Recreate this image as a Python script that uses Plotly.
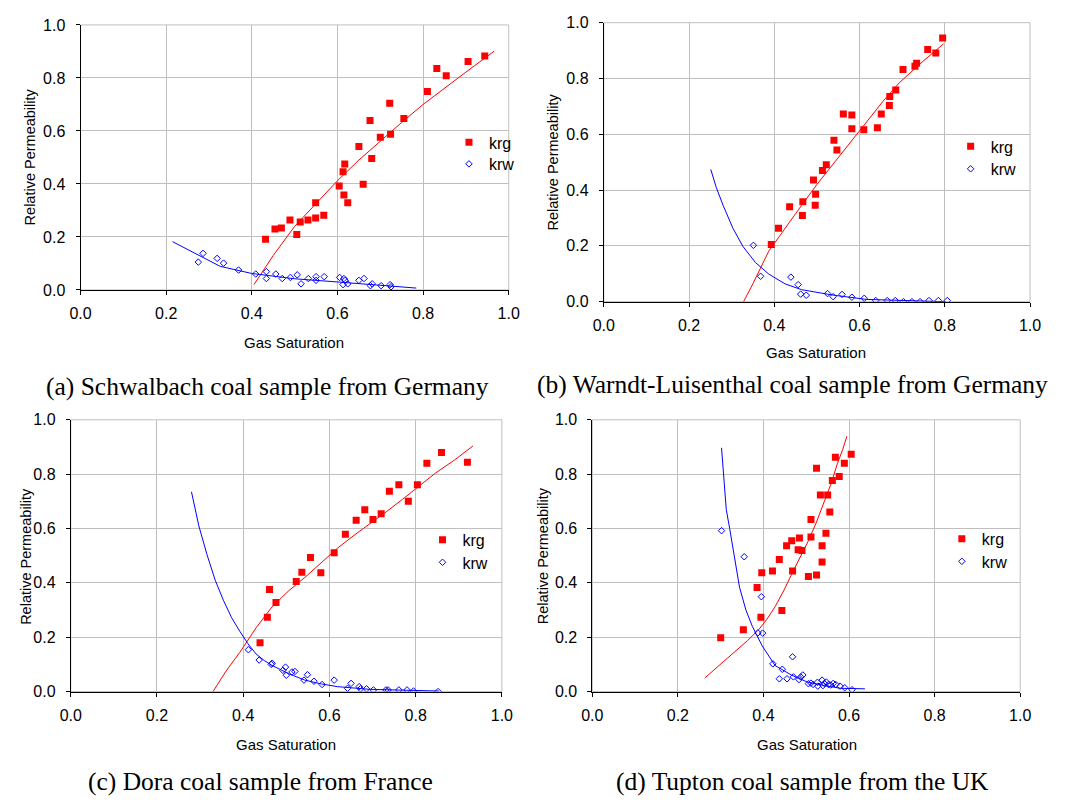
import plotly.graph_objects as go

W, H = 1090, 805

# ---------------- Data ----------------
# (a) Schwalbach
a_krg_x = [0.432, 0.454, 0.469, 0.489, 0.505, 0.513, 0.531, 0.549, 0.549, 0.568, 0.604, 0.615, 0.613, 0.617,
           0.624, 0.650, 0.660, 0.676, 0.680, 0.700, 0.722, 0.724, 0.755, 0.810, 0.832, 0.854, 0.905, 0.944]
a_krg_y = [0.191, 0.230, 0.234, 0.264, 0.209, 0.256, 0.264, 0.271, 0.329, 0.282, 0.392, 0.358, 0.446, 0.475,
           0.329, 0.541, 0.399, 0.639, 0.496, 0.576, 0.704, 0.587, 0.647, 0.749, 0.836, 0.808, 0.862, 0.883]
a_krw_x = [0.275, 0.286, 0.319, 0.334, 0.369, 0.409, 0.434, 0.434, 0.456, 0.471, 0.490, 0.506, 0.515, 0.532,
           0.550, 0.550, 0.569, 0.605, 0.615, 0.618, 0.613, 0.624, 0.650, 0.662, 0.681, 0.677, 0.702, 0.723, 0.725]
a_krw_y = [0.105, 0.138, 0.119, 0.101, 0.075, 0.060, 0.069, 0.043, 0.060, 0.043, 0.047, 0.057, 0.023, 0.043,
           0.050, 0.036, 0.050, 0.047, 0.043, 0.036, 0.020, 0.023, 0.036, 0.043, 0.023, 0.016, 0.016, 0.020, 0.012]
a_krg_fit_x = [0.405, 0.45, 0.50, 0.55, 0.60, 0.65, 0.70, 0.75, 0.80, 0.85, 0.90, 0.966]
a_krg_fit_y = [0.020, 0.130, 0.240, 0.325, 0.412, 0.490, 0.562, 0.632, 0.700, 0.762, 0.822, 0.901]
a_krw_fit_x = [0.215, 0.25, 0.30, 0.326, 0.40, 0.50, 0.60, 0.70, 0.784]
a_krw_fit_y = [0.182, 0.152, 0.112, 0.089, 0.062, 0.042, 0.030, 0.018, 0.007]

# (b) Warndt-Luisenthal
b_krg_x = [0.393, 0.410, 0.436, 0.466, 0.467, 0.492, 0.496, 0.497, 0.513, 0.522, 0.540, 0.547, 0.562, 0.582,
           0.582, 0.610, 0.642, 0.651, 0.670, 0.671, 0.685, 0.702, 0.730, 0.734, 0.760, 0.779, 0.795]
b_krg_y = [0.205, 0.263, 0.340, 0.309, 0.358, 0.436, 0.346, 0.385, 0.470, 0.491, 0.579, 0.544, 0.673, 0.669,
           0.620, 0.616, 0.623, 0.673, 0.703, 0.735, 0.759, 0.832, 0.844, 0.855, 0.904, 0.891, 0.945]
b_krw_x = [0.351, 0.368, 0.439, 0.456, 0.462, 0.475, 0.525, 0.538, 0.559, 0.582, 0.611, 0.638, 0.665, 0.684,
           0.703, 0.723, 0.742, 0.763, 0.785, 0.806]
b_krw_y = [0.202, 0.091, 0.088, 0.061, 0.027, 0.023, 0.029, 0.018, 0.026, 0.016, 0.012, 0.004, 0.004, 0.004,
           0.000, 0.000, 0.000, 0.004, 0.004, 0.004]
b_krg_fit_x = [0.328, 0.35, 0.387, 0.43, 0.464, 0.50, 0.540, 0.58, 0.617, 0.655, 0.693, 0.74, 0.797]
b_krg_fit_y = [0.000, 0.065, 0.181, 0.275, 0.345, 0.420, 0.497, 0.575, 0.649, 0.718, 0.784, 0.850, 0.924]
b_krw_fit_x = [0.251, 0.264, 0.280, 0.303, 0.326, 0.356, 0.387, 0.425, 0.464, 0.540, 0.617, 0.693, 0.801]
b_krw_fit_y = [0.474, 0.409, 0.345, 0.263, 0.199, 0.140, 0.099, 0.064, 0.043, 0.023, 0.008, 0.004, 0.000]

# (c) Dora
c_krg_x = [0.439, 0.456, 0.461, 0.476, 0.523, 0.536, 0.556, 0.580, 0.611, 0.637, 0.662, 0.682, 0.701, 0.720,
           0.739, 0.761, 0.783, 0.804, 0.826, 0.860, 0.920]
c_krg_y = [0.180, 0.273, 0.376, 0.328, 0.405, 0.439, 0.493, 0.437, 0.511, 0.579, 0.630, 0.669, 0.633, 0.654,
           0.737, 0.761, 0.700, 0.761, 0.840, 0.880, 0.844]
c_krw_x = [0.412, 0.437, 0.465, 0.467, 0.492, 0.498, 0.500, 0.513, 0.520, 0.541, 0.549, 0.564, 0.583, 0.611,
           0.642, 0.650, 0.669, 0.672, 0.686, 0.702, 0.731, 0.736, 0.761, 0.780, 0.795, 0.852]
c_krw_y = [0.154, 0.116, 0.100, 0.104, 0.078, 0.090, 0.060, 0.072, 0.074, 0.042, 0.062, 0.038, 0.026, 0.042,
           0.012, 0.030, 0.018, 0.010, 0.010, 0.006, 0.006, 0.006, 0.006, 0.006, 0.002, 0.000]
c_krg_fit_x = [0.330, 0.360, 0.392, 0.430, 0.467, 0.505, 0.543, 0.581, 0.619, 0.657, 0.695, 0.733, 0.770, 0.808, 0.846, 0.890, 0.933]
c_krg_fit_y = [0.000, 0.075, 0.144, 0.235, 0.312, 0.370, 0.420, 0.475, 0.528, 0.575, 0.618, 0.663, 0.708, 0.757, 0.804, 0.852, 0.904]
c_krw_fit_x = [0.280, 0.297, 0.316, 0.335, 0.354, 0.373, 0.392, 0.411, 0.430, 0.449, 0.467, 0.505, 0.543, 0.581, 0.619, 0.695, 0.854]
c_krw_fit_y = [0.735, 0.610, 0.504, 0.410, 0.336, 0.272, 0.222, 0.176, 0.138, 0.114, 0.096, 0.066, 0.042, 0.028, 0.018, 0.008, 0.002]

# (d) Tupton
d_krg_x = [0.300, 0.353, 0.385, 0.394, 0.396, 0.421, 0.437, 0.443, 0.454, 0.466, 0.468, 0.481, 0.484, 0.490,
           0.505, 0.511, 0.511, 0.524, 0.524, 0.533, 0.537, 0.537, 0.546, 0.550, 0.555, 0.561, 0.568, 0.577,
           0.589, 0.605]
d_krg_y = [0.198, 0.227, 0.383, 0.273, 0.437, 0.444, 0.486, 0.298, 0.537, 0.555, 0.444, 0.522, 0.565, 0.519,
           0.423, 0.633, 0.569, 0.429, 0.822, 0.723, 0.537, 0.477, 0.583, 0.723, 0.661, 0.777, 0.862, 0.791,
           0.840, 0.873]
d_krw_x = [0.302, 0.355, 0.395, 0.387, 0.398, 0.422, 0.444, 0.437, 0.455, 0.468, 0.470, 0.483, 0.487, 0.492,
           0.505, 0.511, 0.516, 0.526, 0.527, 0.537, 0.539, 0.542, 0.547, 0.552, 0.557, 0.563, 0.569, 0.579,
           0.590, 0.607]
d_krw_y = [0.592, 0.496, 0.349, 0.216, 0.215, 0.102, 0.082, 0.047, 0.047, 0.128, 0.054, 0.044, 0.054, 0.061,
           0.029, 0.031, 0.026, 0.034, 0.020, 0.042, 0.022, 0.030, 0.035, 0.026, 0.024, 0.030, 0.026, 0.020,
           0.014, 0.007]
d_krg_fit_x = [0.263, 0.300, 0.336, 0.363, 0.389, 0.408, 0.427, 0.447, 0.466, 0.485, 0.504, 0.523, 0.542, 0.558, 0.573, 0.585, 0.595]
d_krg_fit_y = [0.050, 0.100, 0.150, 0.188, 0.228, 0.266, 0.312, 0.370, 0.432, 0.492, 0.552, 0.620, 0.696, 0.765, 0.840, 0.890, 0.940]
d_krw_fit_x = [0.302, 0.313, 0.321, 0.332, 0.344, 0.359, 0.374, 0.397, 0.427, 0.466, 0.504, 0.542, 0.580, 0.637]
d_krw_fit_y = [0.897, 0.670, 0.600, 0.492, 0.384, 0.300, 0.240, 0.168, 0.096, 0.060, 0.034, 0.022, 0.012, 0.010]

tick_vals = [0.0, 0.2, 0.4, 0.6, 0.8, 1.0]
tick_text = ["0.0", "0.2", "0.4", "0.6", "0.8", "1.0"]

series_names = ["krg", "krw"]
captions = ["(a) Schwalbach coal sample from Germany",
            "(b) Warndt-Luisenthal coal sample from Germany",
            "(c) Dora coal sample from France",
            "(d) Tupton coal sample from the UK"]

# ---------------- Layout geometry (pixels) ----------------
panels = [
    dict(px=(71, 508), py=(17.3, 288), data=(a_krg_x, a_krg_y, a_krw_x, a_krw_y, a_krg_fit_x, a_krg_fit_y, a_krw_fit_x, a_krw_fit_y),
         leg=(471, 143, 165), ytitle=(19, 152), xtitle=(289, 342), cap=(262, 387)),
    dict(px=(605, 1040), py=(15, 300), data=(b_krg_x, b_krg_y, b_krw_x, b_krw_y, b_krg_fit_x, b_krg_fit_y, b_krw_fit_x, b_krw_fit_y),
         leg=(983, 147, 170), ytitle=(553, 157), xtitle=(822, 352), cap=(798, 385)),
    dict(px=(61, 501), py=(420.7, 698.3), data=(c_krg_x, c_krg_y, c_krw_x, c_krw_y, c_krg_fit_x, c_krg_fit_y, c_krw_fit_x, c_krw_fit_y),
         leg=(444, 549, 572), ytitle=(15, 560), xtitle=(281, 752), cap=(255, 790)),
    dict(px=(593.3, 1030), py=(420.7, 698.3), data=(d_krg_x, d_krg_y, d_krw_x, d_krw_y, d_krg_fit_x, d_krg_fit_y, d_krw_fit_x, d_krw_fit_y),
         leg=(974, 548, 571), ytitle=(543, 560), xtitle=(812, 752), cap=(808, 790)),
]

SANS = "Liberation Sans, Arial, sans-serif"
SERIF = "Liberation Serif, Times New Roman, serif"
RED = "#FF0000"
BLUE = "#0000FF"
GRID = "#BFBFBF"

fig = go.Figure()
layout = dict(width=W, height=H, margin=dict(l=0, r=0, t=0, b=0),
              paper_bgcolor="white", plot_bgcolor="white", showlegend=True,
              font=dict(family=SANS, color="black"))
annotations = []
leg_idx = 0


def next_legend():
    global leg_idx
    leg_idx += 1
    return "legend" if leg_idx == 1 else "legend" + str(leg_idx)


for i, p in enumerate(panels):
    n = "" if i == 0 else str(i + 1)
    xa, ya = "x" + n, "y" + n
    krg_x, krg_y, krw_x, krw_y, gfx, gfy, wfx, wfy = p["data"]
    lx, ly_g, ly_w = p["leg"]
    lg_g = next_legend()
    lg_w = next_legend()

    fig.add_trace(go.Scatter(x=gfx, y=gfy, mode="lines", line=dict(color=RED, width=1),
                             xaxis=xa, yaxis=ya, showlegend=False, hoverinfo="skip"))
    fig.add_trace(go.Scatter(x=wfx, y=wfy, mode="lines", line=dict(color=BLUE, width=1),
                             xaxis=xa, yaxis=ya, showlegend=False, hoverinfo="skip"))
    fig.add_trace(go.Scatter(x=krg_x, y=krg_y, mode="markers", name=series_names[0],
                             marker=dict(symbol="square", size=7, color=RED, line=dict(width=0)),
                             xaxis=xa, yaxis=ya, legend=lg_g))
    fig.add_trace(go.Scatter(x=krw_x, y=krw_y, mode="markers", name=series_names[1],
                             marker=dict(symbol="diamond-open", size=5, color=BLUE, line=dict(width=1, color=BLUE)),
                             xaxis=xa, yaxis=ya, legend=lg_w))

    x0, x1 = p["px"]
    y0, y1 = p["py"]
    common = dict(range=[0, 1], tickvals=tick_vals, ticktext=tick_text, showgrid=True, gridcolor=GRID,
                  gridwidth=1, zeroline=False, showline=True, linecolor="black", linewidth=1,
                  ticks="outside", ticklen=4, tickcolor="black", tickwidth=1,
                  tickfont=dict(size=16, family=SANS, color="black"), fixedrange=True)
    layout["xaxis" + n] = dict(common, domain=[x0 / W, x1 / W], anchor=ya, ticklabelstandoff=5)
    layout["yaxis" + n] = dict(common, domain=[1 - y1 / H, 1 - y0 / H], anchor=xa, ticklabelstandoff=7)

    for lg, ly in ((lg_g, ly_g), (lg_w, ly_w)):
        layout[lg] = dict(x=(lx - 24) / W, y=1 - (ly - 23) / H, xanchor="left", yanchor="top",
                          bgcolor="rgba(0,0,0,0)", borderwidth=0, itemwidth=30,
                          font=dict(size=16, family=SANS, color="black"))

    # top/right frame in the same gray as the gridlines
    fig.add_shape(type="rect", xref=xa + " domain", yref=ya + " domain", x0=0, x1=1, y0=0, y1=1,
                  line=dict(color=GRID, width=1), layer="below")

    tx, ty = p["ytitle"]
    annotations.append(dict(text="Relative Permeability", x=tx / W, y=1 - ty / H, xref="paper", yref="paper",
                            showarrow=False, textangle=-90, font=dict(size=14.5, family=SANS, color="black"),
                            xanchor="center", yanchor="middle"))
    gx, gy = p["xtitle"]
    annotations.append(dict(text="Gas Saturation", x=gx / W, y=1 - gy / H, xref="paper", yref="paper",
                            showarrow=False, font=dict(size=15, family=SANS, color="black"),
                            xanchor="center", yanchor="middle"))
    cx, cy = p["cap"]
    annotations.append(dict(text=captions[i], x=cx / W, y=1 - cy / H, xref="paper", yref="paper",
                            showarrow=False, font=dict(size=25.5, family=SERIF, color="black"),
                            xanchor="center", yanchor="middle"))

layout["annotations"] = annotations
fig.update_layout(**layout)
fig.write_html("out.html")
